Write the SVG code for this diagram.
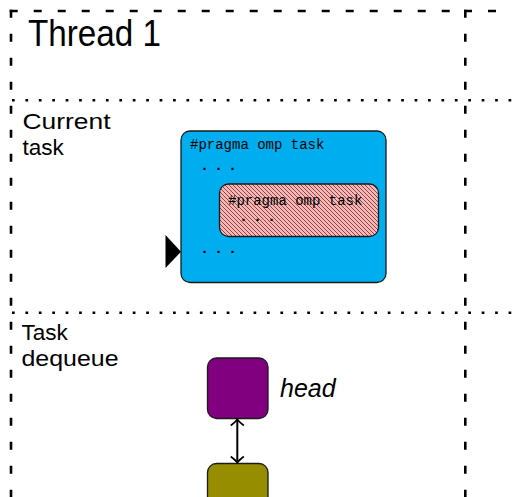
<svg xmlns="http://www.w3.org/2000/svg" width="512" height="497" viewBox="0 0 512 497">
<style>
.dash{stroke:#000;stroke-width:2.6;stroke-dasharray:8 16;fill:none}
.dot{stroke:#000;stroke-width:2.6;stroke-dasharray:2.7 10.72;fill:none}
.lbl{font-family:"Liberation Sans",Arial,sans-serif;fill:#000}
.tt{font-family:"Liberation Mono","DejaVu Sans Mono",monospace;font-size:14px;fill:#000}
.dots{font-family:"Liberation Mono","DejaVu Sans Mono",monospace;font-size:15px;font-weight:bold;letter-spacing:5px;fill:#000}
.box{stroke:#1a1a1a;stroke-width:1.3}
</style>
<defs>
<pattern id="nwl" width="4" height="4" patternUnits="userSpaceOnUse">
<path d="M-1,-1 L5,5 M-1,3 L1,5 M3,-1 L5,1" stroke="#000" stroke-width="0.55"/>
</pattern>
<marker id="arr" viewBox="-8 -8 10 16" refX="0" refY="0" markerWidth="10" markerHeight="16" markerUnits="userSpaceOnUse" orient="auto-start-reverse">
<path d="M-6,-6.5 Q-2,-1.5 0,0 Q-2,1.5 -6,6.5" fill="none" stroke="#000" stroke-width="1.8"/>
</marker>
</defs>
<g id="frame">
<line class="dash" x1="11" y1="9.7" x2="11" y2="500"/>
<line class="dash" x1="9.7" y1="11" x2="466" y2="11"/>
<line class="dash" x1="465.3" y1="9.7" x2="465.3" y2="500"/>
<line class="dash" x1="464" y1="11" x2="520" y2="11"/>
<line class="dot" x1="12" y1="100.3" x2="512" y2="100.3"/>
<line class="dot" x1="12" y1="312.7" x2="512" y2="312.7"/>
</g>
<g id="labels">
<text class="lbl" x="28" y="46" font-size="36" textLength="133" lengthAdjust="spacingAndGlyphs">Thread 1</text>
<text class="lbl" x="22.5" y="129" font-size="22.5" textLength="88" lengthAdjust="spacingAndGlyphs">Current</text>
<text class="lbl" x="22.5" y="155" font-size="22.5">task</text>
<text class="lbl" x="21.5" y="340" font-size="22.5">Task</text>
<text class="lbl" x="21.5" y="366" font-size="22.5" textLength="97" lengthAdjust="spacingAndGlyphs">dequeue</text>
</g>
<g id="current-task">
<rect class="box" x="181" y="131" width="205" height="151.5" rx="9" fill="#00AEEF"/>
<text class="tt" x="190" y="149">#pragma omp task</text>
<text class="dots" x="200" y="169.5">...</text>
<text class="dots" x="200" y="253">...</text>
</g>
<g id="nested-task">
<rect x="219.5" y="184" width="159" height="52.5" rx="9" fill="#FFB3B3"/>
<rect class="box" x="219.5" y="184" width="159" height="52.5" rx="9" fill="url(#nwl)"/>
<text class="tt" x="228" y="205">#pragma omp task</text>
<text class="dots" x="239" y="221">...</text>
</g>
<g id="pointer">
<polygon points="165.5,235 181,251.7 165.5,268" fill="#000"/>
</g>
<g id="head-node">
<rect class="box" x="207.5" y="358" width="60.5" height="60.5" rx="9" fill="#800080"/>
<text class="lbl" x="280" y="397" font-size="25" font-style="italic">head</text>
</g>
<g id="next-node">
<rect class="box" x="207.5" y="463.5" width="60.5" height="60" rx="9" fill="#968E00"/>
</g>
<g id="connectors">
<path d="M237.3,419.5 V462.5" stroke="#000" stroke-width="2" fill="none" marker-start="url(#arr)" marker-end="url(#arr)"/>
</g>
</svg>
